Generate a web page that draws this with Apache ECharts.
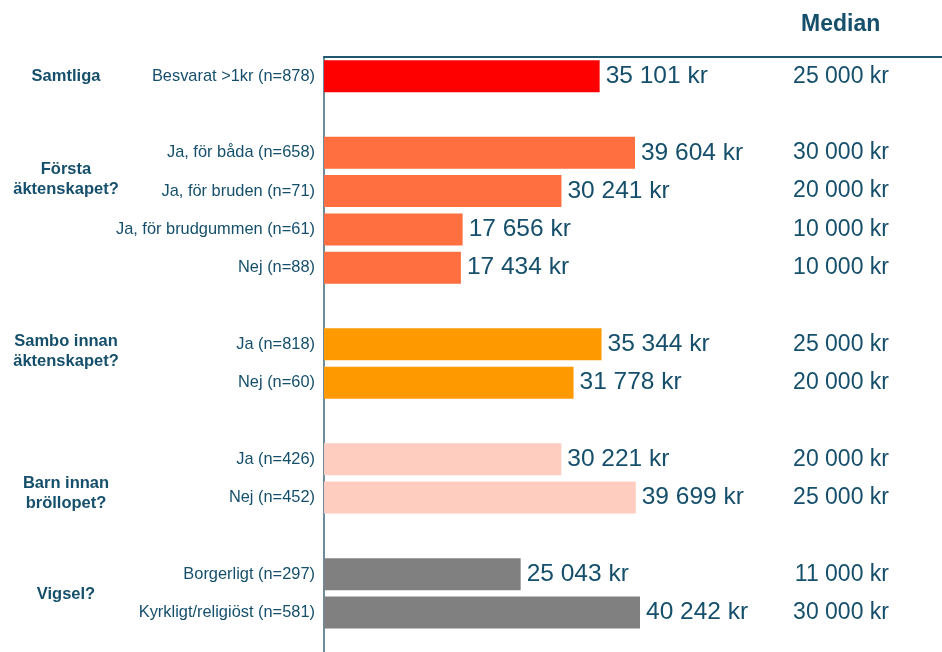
<!DOCTYPE html>
<html>
<head>
<meta charset="utf-8">
<script src="https://cdn.jsdelivr.net/npm/echarts@6/dist/echarts.min.js"></script>
<style>
  html, body { margin: 0; padding: 0; background: #fff; }
  #chart { width: 942px; height: 652px; }
</style>
</head>
<body>
<div id="chart"></div>
<script>
// rader uppifrån och ned, tomma rader skiljer grupperna åt
const categories = [
  'Besvarat >1kr (n=878)', ' ',
  'Ja, för båda (n=658)', 'Ja, för bruden (n=71)', 'Ja, för brudgummen (n=61)', 'Nej (n=88)', '  ',
  'Ja (n=818)', 'Nej (n=60)', '   ',
  'Ja (n=426)', 'Nej (n=452)', '    ',
  'Borgerligt (n=297)', 'Kyrkligt/religiöst (n=581)', '     '
];
const means = [35101, null, 39604, 30241, 17656, 17434, null, 35344, 31778, null, 30221, 39699, null, 25043, 40242, null];
const medians = [25000, null, 30000, 20000, 10000, 10000, null, 25000, 20000, null, 20000, 25000, null, 11000, 30000, null];
const groups = ['Samtliga', '', '', 'Första\näktenskapet?', '', '', '', 'Sambo innan\näktenskapet?', '', '', '', 'Barn innan\nbröllopet?', '', 'Vigsel?', '', ''];

const font = 'Liberation Sans';
const textColor = '#154f6b';
const rowColors = ['#ff0000', null, '#ff6f40', '#ff6f40', '#ff6f40', '#ff6f40', null, '#ff9900', '#ff9900', null,
  '#ffccc0', '#ffccc0', null, '#808080', '#808080', null];
// lodrät finjustering av gruppetiketterna (px, negativt = uppåt)
const groupShift = { 3: -12, 7: 7, 11: -4, 13: 20 };

function kr (v) {
  return String(v).replace(/\B(?=(\d{3})+(?!\d))/g, ' ') + ' kr';
}

const chart = echarts.init(document.getElementById('chart'));

const option = {
  animation: false,
  textStyle: { fontFamily: font },
  title: {
    text: 'Median',
    left: 796,
    top: 8,
    textStyle: { color: textColor, fontFamily: font, fontSize: 23, fontWeight: 'bold' }
  },
  grid: { left: 324, top: 57, right: 0, height: 613, outerBoundsMode: 'none', containLabel: false },
  xAxis: {
    type: 'value',
    position: 'top',
    min: 0,
    max: 78700,
    axisLine: { show: true, lineStyle: { color: '#1f5670', width: 2 } },
    axisTick: { show: false },
    axisLabel: { show: false },
    splitLine: { show: false }
  },
  yAxis: [
    {
      type: 'category',
      inverse: true,
      data: categories,
      axisLine: { show: true, lineStyle: { color: '#3d6478', width: 1.5 } },
      axisTick: { show: false },
      axisLabel: { interval: 0, margin: 9, color: textColor, fontFamily: font, fontSize: 16.4 }
    },
    {
      type: 'category',
      inverse: true,
      position: 'right',
      data: categories,
      axisLine: { show: false },
      axisTick: { show: false },
      axisLabel: {
        interval: 0, inside: true, margin: 53, color: textColor, fontFamily: font, fontSize: 23,
        padding: [0, 0, 3, 0],
        formatter: (v, i) => medians[i] == null ? '' : kr(medians[i])
      }
    }
  ],
  series: [
    {
      type: 'bar',
      yAxisIndex: 0,
      barWidth: 32,
      data: means.map((v, i) => ({ value: v, itemStyle: { color: rowColors[i] } })),
      label: {
        show: true,
        position: 'right',
        distance: 6,
        color: textColor,
        fontFamily: font,
        fontSize: 24.5,
        formatter: p => p.value == null ? '' : kr(p.value)
      }
    }
  ]
};

chart.setOption(option);

// gruppetiketter till vänster, placerade efter kategoriaxelns rader
const groupTexts = [];
groups.forEach((g, i) => {
  if (!g) return;
  const y = chart.convertToPixel({ yAxisIndex: 0 }, categories[i]);
  groupTexts.push({
    type: 'text',
    x: 66,
    y: y + (groupShift[i] || 0),
    style: {
      text: g,
      fill: textColor,
      fontFamily: font,
      fontSize: 16.5,
      fontWeight: 'bold',
      lineHeight: 20,
      align: 'center',
      verticalAlign: 'middle'
    }
  });
});
chart.setOption({ graphic: groupTexts });
</script>
</body>
</html>
